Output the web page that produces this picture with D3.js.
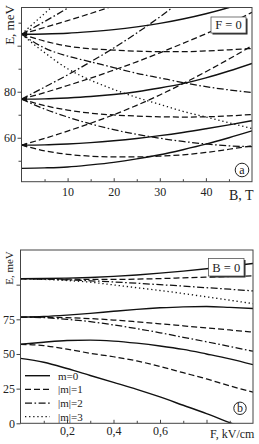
<!DOCTYPE html>
<html>
<head>
<meta charset="utf-8">
<script src="https://cdn.jsdelivr.net/npm/d3@7"></script>
<style>
  body { margin: 0; background: #fff; }
  svg { display: block; }
  svg text { font-family: "Liberation Serif", "Times New Roman", "DejaVu Serif", serif; }
</style>
</head>
<body>
<div id="chart"></div>
<script>
// ---- panel (a): levels vs magnetic field, F = 0 ----
let bField = [0, 5, 10, 15, 20, 25, 30, 35, 40, 45, 50];

// m = 0
let a_m0_1 = [46.7, 46.9, 47.3, 48.2, 49.3, 50.8, 52.6, 54.8, 57.2, 60.0, 63.0];
let a_m0_2 = [56.8, 56.9, 57.3, 57.9, 58.7, 59.7, 60.9, 62.3, 63.9, 65.6, 67.4];
let a_m0_3 = [76.8, 76.9, 77.3, 77.9, 78.8, 80.0, 81.6, 83.5, 86.0, 89.0, 92.3];
let a_m0_4 = [105.0, 105.1, 105.4, 106.1, 107.0, 108.2, 109.7, 111.6, 113.9, 116.6, 119.8];
// |m| = 1
let a_m1_2dn = [56.8, 54.3, 52.8, 52.0, 51.7, 51.7, 52.0, 52.6, 53.6, 55.0, 56.5];
let a_m1_2up = [56.8, 59.7, 62.9, 66.3, 70.0, 74.1, 78.6, 83.5, 88.7, 94.2, 100.0];
let a_m1_3dn = [76.8, 74.0, 72.0, 70.7, 69.9, 69.4, 69.1, 69.0, 69.1, 69.5, 70.1];
let a_m1_3up = [76.8, 79.6, 82.7, 85.9, 89.4, 93.0, 96.9, 101.0, 105.2, 109.6, 114.5];
let a_m1_4dn = [105.0, 102.0, 99.8, 98.7, 98.1, 97.6, 97.4, 97.4, 97.7, 98.2, 98.8];
let a_m1_4up = [105.0, 107.9, 110.9, 114.0, 117.4, 121.0];
// |m| = 2
let a_m2_3up = [76.8, 82.0, 87.3, 93.0, 99.0, 105.5, 112.5, 120.0];
let a_m2_3dn = [76.8, 72.5, 69.0, 66.0, 63.5, 61.5, 59.8, 58.4, 57.3, 56.5, 56.1];
let a_m2_4up = [105.0, 110.5, 116.3, 122.5];
let a_m2_4dn = [105.0, 99.0, 95.5, 93.0, 90.5, 88.0, 86.0, 84.0, 82.2, 80.8, 79.6];
// |m| = 3
let a_m3_4up = [105.0, 114.0, 123.0];
let a_m3_4dn = [105.0, 97.0, 90.0, 85.0, 81.0, 77.5, 74.5, 71.5, 69.0, 66.5, 64.0];

let degenerateLevels = [56.8, 76.8, 105.0];

// ---- panel (b): levels vs electric field, B = 0 ----
let eField = [0, 0.1, 0.2, 0.3, 0.4, 0.5, 0.6, 0.7, 0.8, 0.9, 1.0];

let b_m0_1 = [46.8, 44.0, 39.5, 34.5, 29.5, 24.5, 19.0, 13.0, 7.0, 0.5, -5.5];
let b_m0_2 = [57.0, 58.5, 59.7, 60.0, 59.3, 57.8, 55.8, 53.3, 50.0, 46.5, 42.3];
let b_m0_3 = [76.6, 77.0, 78.0, 79.3, 80.8, 82.2, 83.3, 84.0, 84.2, 83.6, 82.8];
let b_m0_4 = [104.3, 104.4, 104.7, 105.2, 106.0, 107.0, 108.3, 109.8, 111.5, 113.3, 115.3];
let b_m1_2 = [57.0, 56.0, 53.5, 50.5, 48.0, 45.0, 41.0, 36.5, 32.0, 27.0, 22.5];
let b_m1_3 = [76.6, 76.5, 76.2, 75.5, 74.5, 73.2, 71.8, 70.3, 68.8, 67.3, 65.8];
let b_m1_4 = [104.3, 104.2, 104.0, 103.8, 103.8, 104.0, 104.4, 104.9, 105.4, 105.9, 106.4];
let b_m2_3 = [76.6, 76.2, 75.0, 73.3, 71.0, 68.3, 65.3, 62.0, 58.8, 55.4, 52.0];
let b_m2_4 = [104.3, 104.0, 103.5, 102.8, 102.0, 101.0, 100.0, 99.0, 97.8, 96.7, 95.5];
let b_m3_4 = [104.3, 103.8, 103.0, 101.8, 99.8, 97.8, 95.8, 93.6, 91.2, 88.8, 86.3];

let legendLabels = ["m=0", "|m|=1", "|m|=2", "|m|=3"];
let legendStyles = ["solid", "dash", "dashdot", "dot"];

// line styles
let dashes = {solid: null, dash: "6,3", dashdot: "7,2.5,1.6,2.5", dot: "1.3,2.8"};
let widths = {solid: 1.4, dash: 1.25, dashdot: 1.25, dot: 1.3};

let serif = "'Liberation Serif', 'Times New Roman', serif";

let svg = d3.select("#chart").append("svg")
    .attr("width", 259)
    .attr("height", 444);

// scales
let xA = d3.scaleLinear().domain([0, 50]).range([21.5, 252]);
let yA = d3.scaleLinear().domain([40.9, 116.6]).range([181.7, 7.5]);
let xB = d3.scaleLinear().domain([0, 1]).range([20.5, 253]);
let yB = d3.scaleLinear().domain([0, 125]).range([423.3, 250]);

function drawCurves(id, x, y, xs, series) {
    svg.append("clipPath").attr("id", id)
        .append("rect")
        .attr("x", x.range()[0]).attr("y", y.range()[1])
        .attr("width", x.range()[1] - x.range()[0])
        .attr("height", y.range()[0] - y.range()[1]);

    let line = d3.line()
        .x(d => x(d[0]))
        .y(d => y(d[1]))
        .curve(d3.curveMonotoneX);

    svg.append("g")
        .attr("clip-path", "url(#" + id + ")")
        .selectAll("path")
        .data(series)
        .enter()
        .append("path")
        .attr("d", s => line(s.v.map((v, i) => [xs[i], v])))
        .attr("fill", "none")
        .attr("stroke", "#111")
        .attr("stroke-width", s => widths[s.style])
        .attr("stroke-dasharray", s => dashes[s.style]);
}

function drawFrame(x, y) {
    svg.append("rect")
        .attr("x", x.range()[0]).attr("y", y.range()[1])
        .attr("width", x.range()[1] - x.range()[0])
        .attr("height", y.range()[0] - y.range()[1])
        .attr("fill", "none")
        .attr("stroke", "#444")
        .attr("stroke-width", 1);
}

function styleAxis(g) {
    g.attr("font-family", serif);
    g.select(".domain").remove();
    g.selectAll("line").attr("stroke", "#444");
    g.selectAll("text").attr("fill", "#222").attr("font-family", serif).style("font-size", "12px");
}

function addText(x, y, str, size, anchor, transform) {
    let t = svg.append("text")
        .attr("font-family", serif)
        .style("font-size", size + "px")
        .attr("fill", "#222")
        .attr("text-anchor", anchor || "start")
        .text(str);
    if (transform) t.attr("transform", transform);
    else t.attr("x", x).attr("y", y);
    return t;
}

function infoBox(x0, y0, w, h, label) {
    svg.append("rect").attr("x", x0 + 1.5).attr("y", y0 + 1.5).attr("width", w).attr("height", h)
        .attr("fill", "#222");
    svg.append("rect").attr("x", x0).attr("y", y0).attr("width", w).attr("height", h)
        .attr("fill", "#fff").attr("stroke", "#555").attr("stroke-width", 0.8);
    addText(x0 + w / 2, y0 + h / 2 + 4.3, label, 12.5, "middle");
}

function circleLabel(cx, cy, r, label) {
    svg.append("circle").attr("cx", cx).attr("cy", cy).attr("r", r)
        .attr("fill", "#fff").attr("stroke", "#222").attr("stroke-width", 1);
    addText(cx, cy + 3.8, label, 12, "middle");
}

// ---------- panel (a) ----------
drawCurves("clipA", xA, yA, bField, [
    {v: a_m0_1, style: "solid"}, {v: a_m0_2, style: "solid"},
    {v: a_m0_3, style: "solid"}, {v: a_m0_4, style: "solid"},
    {v: a_m1_2dn, style: "dash"}, {v: a_m1_2up, style: "dash"},
    {v: a_m1_3dn, style: "dash"}, {v: a_m1_3up, style: "dash"},
    {v: a_m1_4dn, style: "dash"}, {v: a_m1_4up, style: "dash"},
    {v: a_m2_3up, style: "dashdot"}, {v: a_m2_3dn, style: "dashdot"},
    {v: a_m2_4up, style: "dashdot"}, {v: a_m2_4dn, style: "dashdot"},
    {v: a_m3_4up, style: "dot"}, {v: a_m3_4dn, style: "dot"}
]);

// small arrowheads at the degenerate B = 0 levels
svg.append("g").selectAll("path")
    .data(degenerateLevels)
    .enter()
    .append("path")
    .attr("d", d => "M" + xA(0) + "," + yA(d) + "l5.5,-2.3l0,4.6z")
    .attr("fill", "#111");

drawFrame(xA, yA);

svg.append("g")
    .attr("transform", "translate(0," + yA.range()[0] + ")")
    .call(d3.axisBottom(xA).tickValues([10, 20, 30, 40]).tickSize(-3.5).tickPadding(5.5))
    .call(styleAxis);
svg.append("g")
    .attr("transform", "translate(0," + yA.range()[0] + ")")
    .call(d3.axisBottom(xA).tickValues([5, 15, 25, 35, 45]).tickSize(-2.5).tickFormat(""))
    .call(styleAxis);
svg.append("g")
    .attr("transform", "translate(" + xA.range()[0] + ",0)")
    .call(d3.axisLeft(yA).tickValues([60, 80, 100]).tickSize(4).tickPadding(1.5)
        .tickFormat(d => d === 100 ? "" : d))
    .call(styleAxis);
svg.append("g")
    .attr("transform", "translate(" + xA.range()[0] + ",0)")
    .call(d3.axisLeft(yA).tickValues([50, 70, 90, 110]).tickSize(3).tickFormat(""))
    .call(styleAxis);

// axis titles (a)
addText(0, 0, "E, meV", 13, "middle", "translate(14,25) rotate(-90)");
addText(229, 200, "B, T", 14);

infoBox(211, 17, 35, 16, "F = 0");
circleLabel(242, 170, 6.8, "a");

// ---------- panel (b) ----------
drawCurves("clipB", xB, yB, eField, [
    {v: b_m0_1, style: "solid"}, {v: b_m0_2, style: "solid"},
    {v: b_m0_3, style: "solid"}, {v: b_m0_4, style: "solid"},
    {v: b_m1_2, style: "dash"}, {v: b_m1_3, style: "dash"}, {v: b_m1_4, style: "dash"},
    {v: b_m2_3, style: "dashdot"}, {v: b_m2_4, style: "dashdot"},
    {v: b_m3_4, style: "dot"}
]);

drawFrame(xB, yB);

let commaFmt = d => d3.format(".1f")(d).replace(".", ",");
svg.append("g")
    .attr("transform", "translate(0," + yB.range()[0] + ")")
    .call(d3.axisBottom(xB).tickValues([0.2, 0.4, 0.6, 0.8]).tickSize(-3.5).tickPadding(3.5)
        .tickFormat(d => d === 0.8 ? "" : commaFmt(d)))
    .call(styleAxis);
svg.append("g")
    .attr("transform", "translate(0," + yB.range()[0] + ")")
    .call(d3.axisBottom(xB).tickValues([0.1, 0.3, 0.5, 0.7, 0.9]).tickSize(-2.5).tickFormat(""))
    .call(styleAxis);
svg.append("g")
    .attr("transform", "translate(" + xB.range()[0] + ",0)")
    .call(d3.axisLeft(yB).tickValues([0, 25, 50, 75, 100]).tickSize(4).tickPadding(1.5)
        .tickFormat(d => d === 100 ? "" : d))
    .call(styleAxis);

addText(0, 0, "E, meV", 11, "middle", "translate(13,268) rotate(-90)");
addText(210, 438, "F, kV/cm", 12);

infoBox(208.5, 258.5, 35.5, 17.5, "B = 0");
circleLabel(240, 408.3, 6.2, "b");

// legend (b)
let legendY = d3.scalePoint().domain(legendLabels).range([375.7, 416.7]);
let legend = svg.append("g").selectAll("g")
    .data(legendLabels)
    .enter()
    .append("g")
    .attr("transform", d => "translate(0," + legendY(d) + ")");
legend.append("line")
    .attr("x1", 25).attr("x2", 50)
    .attr("stroke", "#111")
    .attr("stroke-width", (d, i) => widths[legendStyles[i]])
    .attr("stroke-dasharray", (d, i) => dashes[legendStyles[i]]);
legend.append("text")
    .attr("x", 58).attr("y", 4)
    .attr("font-family", serif)
    .style("font-size", "11px").attr("fill", "#222")
    .text(d => d);
</script>
</body>
</html>
